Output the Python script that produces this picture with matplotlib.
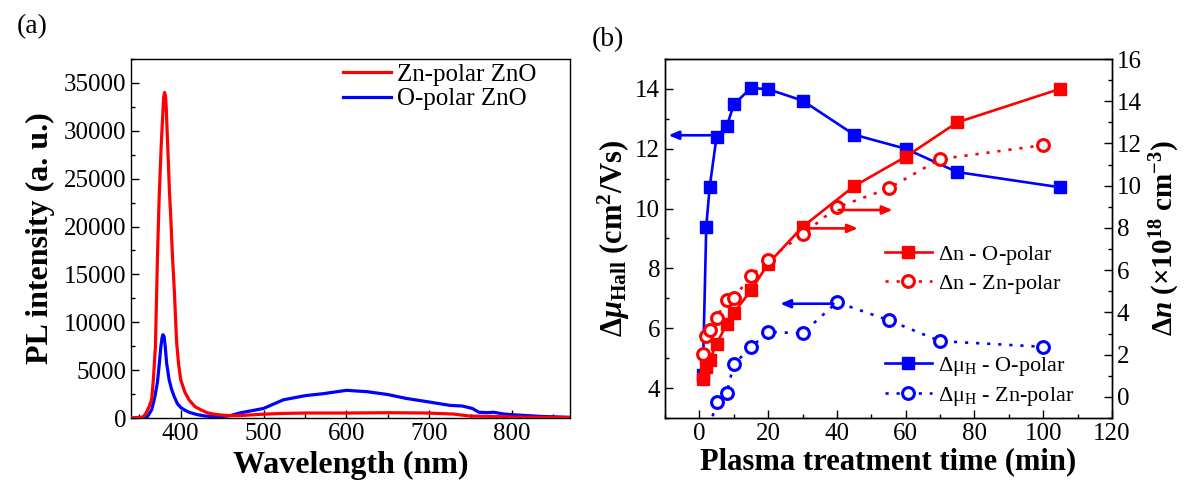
import matplotlib
matplotlib.use("Agg")
import matplotlib.pyplot as plt
from matplotlib.ticker import MultipleLocator

plt.rcParams['font.family'] = ['Liberation Serif', 'DejaVu Serif']
plt.rcParams['mathtext.fontset'] = 'custom'
plt.rcParams['mathtext.rm'] = 'Liberation Serif'
plt.rcParams['mathtext.it'] = 'Liberation Serif:italic'
plt.rcParams['mathtext.bf'] = 'Liberation Serif:bold'
plt.rcParams['mathtext.bfit'] = 'Liberation Serif:italic:bold'
plt.rcParams['axes.linewidth'] = 1.0

# ---------------- Panel (a) data: PL spectra ----------------
zn_wl = [340, 350, 355, 358, 362, 365, 367, 369.5, 372, 374, 376.5, 378.5, 379.5, 380.5,
         381.5, 382.5, 384.5, 386.5, 388, 390, 392.5, 395, 397.5, 400, 405, 410, 417, 424,
         432, 440, 450, 460, 471, 500, 525, 552, 600, 652, 697, 729, 749, 772, 802, 835, 870]
zn_I = [0, 20, 150, 500, 1200, 2000, 4000, 7500, 17000, 23000, 28500, 32000, 33500, 34000,
        33700, 32500, 28000, 23500, 21000, 17000, 13000, 8000, 5600, 4000, 2700, 1900, 1200, 870,
        550, 400, 300, 250, 250, 400, 480, 520, 520, 550, 520, 415, 200, 170, 100, 70, 50]

o_wl = [340, 355, 360, 365, 369, 372, 374, 376, 377.5, 378.6, 380, 381.5, 383, 386, 389, 392,
        396, 400, 404, 410, 420, 430, 440, 450, 460, 471, 485, 500, 524, 550, 572, 600, 625,
        650, 672, 700, 725, 740, 752, 760, 770, 778, 790, 800, 834, 870]
o_I = [0, 30, 150, 870, 2300, 3800, 5500, 7400, 8400, 8700, 8500, 7300, 5750, 4000, 3000, 2270,
       1500, 1100, 870, 600, 350, 200, 150, 150, 250, 520, 750, 1000, 1900, 2330, 2540, 2890, 2750,
       2450, 2050, 1670, 1320, 1250, 1000, 600, 560, 600, 415, 345, 170, 66]

# ---------------- Panel (b) data ----------------
t_O = [1, 2, 3, 5, 8, 10, 15, 20, 30, 45, 60, 75, 105]
mu_O = [4.45, 9.4, 10.73, 12.4, 12.76, 13.48, 14.03, 13.99, 13.61, 12.47, 12.0, 11.22, 10.71]
n_O = [0.85, 1.40, 1.75, 2.51, 3.46, 3.98, 5.04, 6.31, 8.05, 9.98, 11.37, 13.0, 14.59]

t_Zn_n = [1, 2, 3, 5, 8, 10, 15, 20, 30, 40, 55, 70, 100]
n_Zn = [2.04, 2.86, 3.18, 3.75, 4.60, 4.70, 5.71, 6.50, 7.70, 8.97, 9.87, 11.26, 11.92]

t_Zn_mu = [3, 5, 8, 10, 15, 20, 30, 40, 55, 70, 100]
mu_Zn = [2.7, 3.54, 3.84, 4.80, 5.36, 5.88, 5.83, 6.87, 6.27, 5.57, 5.38]

W, H = 1185, 490
fig = plt.figure(figsize=(W / 100, H / 100), dpi=100)

def fx(px):
    return px / W

def fy(py):
    return 1 - py / H

tick_fs = 18
lab_fs = 22

# ---------------- Panel (a) ----------------
axa = fig.add_axes([fx(131), fy(418), fx(570) - fx(131), fy(59) - fy(418)])
axa.plot(zn_wl, zn_I, color='#ff0000', lw=2.3, label='Zn-polar ZnO', zorder=3)
axa.plot(o_wl, o_I, color='#0000ff', lw=2.3, label='O-polar ZnO', zorder=2)
axa.set_xlim(340, 870)
axa.set_ylim(0, 37500)
axa.xaxis.set_major_locator(MultipleLocator(100))
axa.xaxis.set_minor_locator(MultipleLocator(50))
axa.yaxis.set_major_locator(MultipleLocator(5000))
axa.yaxis.set_minor_locator(MultipleLocator(2500))
axa.tick_params(which='both', direction='in', top=False, right=False, labelsize=tick_fs, width=1.0)
axa.tick_params(which='major', length=5.5)
axa.tick_params(which='minor', length=3)
axa.set_xlabel('Wavelength (nm)', fontsize=23, fontweight='bold', labelpad=4)
axa.set_ylabel('PL intensity (a. u.)', fontsize=23, fontweight='bold', labelpad=6)
axa.legend(loc='upper left', bbox_to_anchor=(fx(343), fy(63)), bbox_transform=fig.transFigure,
           frameon=False, fontsize=18, handlelength=1.9, handletextpad=0.25,
           labelspacing=0.1, borderpad=0, borderaxespad=0)
fig.text(fx(17), fy(27), '(a)', fontsize=20, va='center', ha='left')

# ---------------- Panel (b) ----------------
axb = fig.add_axes([fx(665), fy(418), fx(1112) - fx(665), fy(59) - fy(418)])
axn = axb.twinx()

ms = 8.5
l_muO, = axb.plot(t_O, mu_O, color='#0000ff', lw=1.9, marker='s', ms=ms, mfc='#0000ff', mec='#0000ff',
                  label=r'$\mathrm{\Delta\mu_{H}}$ - O-polar')
l_muZn, = axb.plot(t_Zn_mu, mu_Zn, color='#0000ff', lw=1.9, ls=(0, (1.2, 3.0)), marker='o', ms=ms,
                   mfc='white', mec='#0000ff', mew=2.2,
                   label=r'$\mathrm{\Delta\mu_{H}}$ - Zn-polar')
l_nO, = axn.plot(t_O, n_O, color='#ff0000', lw=1.9, marker='s', ms=ms, mfc='#ff0000', mec='#ff0000',
                 label=r'$\mathrm{\Delta}$n - O-polar')
l_nZn, = axn.plot(t_Zn_n, n_Zn, color='#ff0000', lw=1.9, ls=(0, (1.2, 3.0)), marker='o', ms=ms,
                  mfc='white', mec='#ff0000', mew=2.2, label=r'$\mathrm{\Delta}$n - Zn-polar')

axb.set_xlim(-10, 120)
axb.set_ylim(3, 15)
axn.set_ylim(-1, 16)
axb.xaxis.set_major_locator(MultipleLocator(20))
axb.xaxis.set_minor_locator(MultipleLocator(10))
axb.yaxis.set_major_locator(MultipleLocator(2))
axb.yaxis.set_minor_locator(MultipleLocator(1))
axn.yaxis.set_major_locator(MultipleLocator(2))
axn.yaxis.set_minor_locator(MultipleLocator(1))
for a in (axb, axn):
    a.tick_params(which='both', direction='in', top=False, labelsize=tick_fs, width=1.0)
    a.tick_params(which='major', length=5.5)
    a.tick_params(which='minor', length=3)
axb.tick_params(which='both', right=False)

axb.set_xlabel('Plasma treatment time (min)', fontsize=lab_fs, fontweight='bold', labelpad=2)
axb.set_ylabel(r'$\mathbf{\Delta}\mathbfit{\mu}_{\mathbf{Hall}}\ \mathbf{(cm^{2}/Vs)}$', fontsize=lab_fs, labelpad=2)
axn.set_ylabel(r'$\mathbf{\Delta}\mathbfit{n}\ \mathbf{(\times10^{18}\ cm^{-3})}$', fontsize=21,
               rotation=90, labelpad=4)

arrow_kw = dict(arrowstyle='-|>,head_length=0.6,head_width=0.25', lw=1.9, shrinkA=0, shrinkB=0)
axb.annotate('', xy=(-9, 12.45), xytext=(4.5, 12.45),
             arrowprops=dict(color='#0000ff', **arrow_kw), zorder=1)
axb.annotate('', xy=(23.5, 6.82), xytext=(39, 6.82),
             arrowprops=dict(color='#0000ff', **arrow_kw))
axn.annotate('', xy=(46.1, 7.98), xytext=(30.5, 7.98),
             arrowprops=dict(color='#ff0000', **arrow_kw))
axn.annotate('', xy=(56.2, 8.85), xytext=(40.5, 8.85),
             arrowprops=dict(color='#ff0000', **arrow_kw))

leg_kw = dict(frameon=False, fontsize=16, handlelength=2.1, handletextpad=0.3,
              borderpad=0, borderaxespad=0, bbox_transform=fig.transFigure, loc='upper left')
leg1 = axn.legend(handles=[l_nO, l_nZn], bbox_to_anchor=(fx(885), fy(244)), labelspacing=0.25, **leg_kw)
axn.add_artist(leg1)
leg2 = axn.legend(handles=[l_muO, l_muZn], bbox_to_anchor=(fx(885), fy(355)), labelspacing=0.3, **leg_kw)

fig.text(fx(592), fy(40), '(b)', fontsize=20, va='center', ha='left')

fig.savefig('out.png', dpi=100)
